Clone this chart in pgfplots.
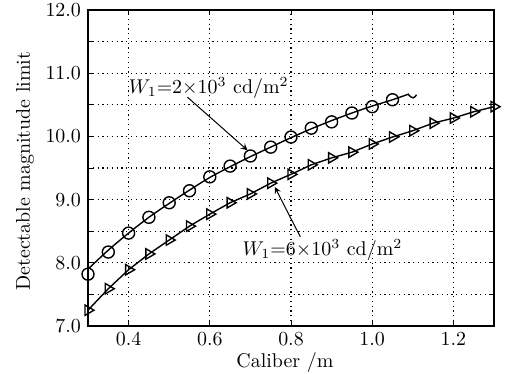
\documentclass[border=0pt]{standalone}
\usepackage{pgfplots}
\pgfplotsset{compat=1.18}
\begin{document}
\begin{tikzpicture}
\begin{axis}[
  scale only axis,
  width=203bp, height=158bp,
  xmin=0.3, xmax=1.3, ymin=7, ymax=12,
  xtick={0.4,0.6,0.8,1.0,1.2},
  ytick={7,8,9,10,11,12},
  minor ytick={7.5,8.5,9.5,10.5,11.5},
  xticklabel style={/pgf/number format/.cd,fixed,fixed zerofill,precision=1},
  yticklabel style={/pgf/number format/.cd,fixed,fixed zerofill,precision=1},
  grid=both,
  major grid style={black, line width=0.55pt, dash pattern=on 0.6pt off 1.8pt},
  minor grid style={black, line width=0.55pt, dash pattern=on 0.6pt off 1.8pt},
  tick align=inside,
  major tick length=2.5bp, minor tick length=2.5bp,
  tick style={black, line width=0.5pt},
  axis line style={line width=0.8pt},
  xlabel={Caliber /m},
  ylabel={Detectable magnitude limit},
  xlabel style={at={(axis description cs:0.485,-0.115)}, anchor=center},
  ylabel style={at={(axis description cs:-0.155,0.49)}, anchor=center},
  clip=false,
]
% line W1=2e3
\addplot[black, line width=0.7pt, smooth, no marks] coordinates {
 (0.3,7.9) (0.35,8.2) (0.4,8.47) (0.45,8.72) (0.5,8.94) (0.55,9.15)
 (0.6,9.35) (0.65,9.52) (0.7,9.68) (0.75,9.83) (0.8,9.98) (0.85,10.12)
 (0.9,10.25) (0.95,10.37) (1.0,10.48) (1.05,10.58) (1.09,10.67)
};
\addplot[black, line width=0.7pt, smooth, no marks] coordinates {
 (1.088,10.67) (1.095,10.625) (1.101,10.61) (1.106,10.63) (1.109,10.66)
};
\addplot[black, only marks, mark=o, mark size=3bp, mark options={line width=0.7pt}] coordinates {
 (0.3,7.82) (0.35,8.17) (0.4,8.47) (0.45,8.72) (0.5,8.95) (0.55,9.14)
 (0.6,9.36) (0.65,9.53) (0.7,9.69) (0.75,9.83) (0.8,9.99) (0.85,10.13)
 (0.9,10.23) (0.95,10.37) (1.0,10.47) (1.05,10.58)
};
% line W1=6e3
\addplot[black, line width=0.7pt, no marks] coordinates {
 (0.3,7.25) (0.35,7.59) (0.4,7.89) (0.45,8.14) (0.5,8.36) (0.55,8.58)
 (0.6,8.77) (0.65,8.95) (0.7,9.09) (0.75,9.26) (0.8,9.40) (0.85,9.55)
 (0.9,9.66) (0.95,9.75) (1.0,9.88) (1.05,9.99) (1.1,10.09) (1.15,10.21)
 (1.2,10.29) (1.25,10.39) (1.3,10.47)
};
\addplot[black, only marks, mark=triangle, mark size=3bp, mark options={rotate=-90, line width=0.7pt}] coordinates {
 (0.3,7.25) (0.35,7.59) (0.4,7.89) (0.45,8.14) (0.5,8.36) (0.55,8.58)
 (0.6,8.77) (0.65,8.95) (0.7,9.09) (0.75,9.26) (0.8,9.40) (0.85,9.55)
 (0.9,9.66) (0.95,9.75) (1.0,9.88) (1.05,9.99) (1.1,10.09) (1.15,10.21)
 (1.2,10.29) (1.25,10.39) (1.3,10.47)
};
\node[anchor=west, inner sep=0pt] at (axis cs:0.40,10.77) {$W_1{=}2{\times}10^3$ cd/m$^2$};
\draw[-stealth, line width=0.5pt] (axis cs:0.545,10.62) -- (axis cs:0.693,9.78);
\node[anchor=west, inner sep=0pt] at (axis cs:0.68,8.2) {$W_1{=}6{\times}10^3$ cd/m$^2$};
\draw[-stealth, line width=0.5pt] (axis cs:0.823,8.41) -- (axis cs:0.76,9.2);
\end{axis}
\pgfresetboundingbox
\path (current axis.south west) ++(-44bp,-24bp) coordinate (bbA);
\path (current axis.north east) ++(7bp,5bp) coordinate (bbB);
\path[use as bounding box] (bbA) rectangle (bbB);
\end{tikzpicture}
\end{document}
